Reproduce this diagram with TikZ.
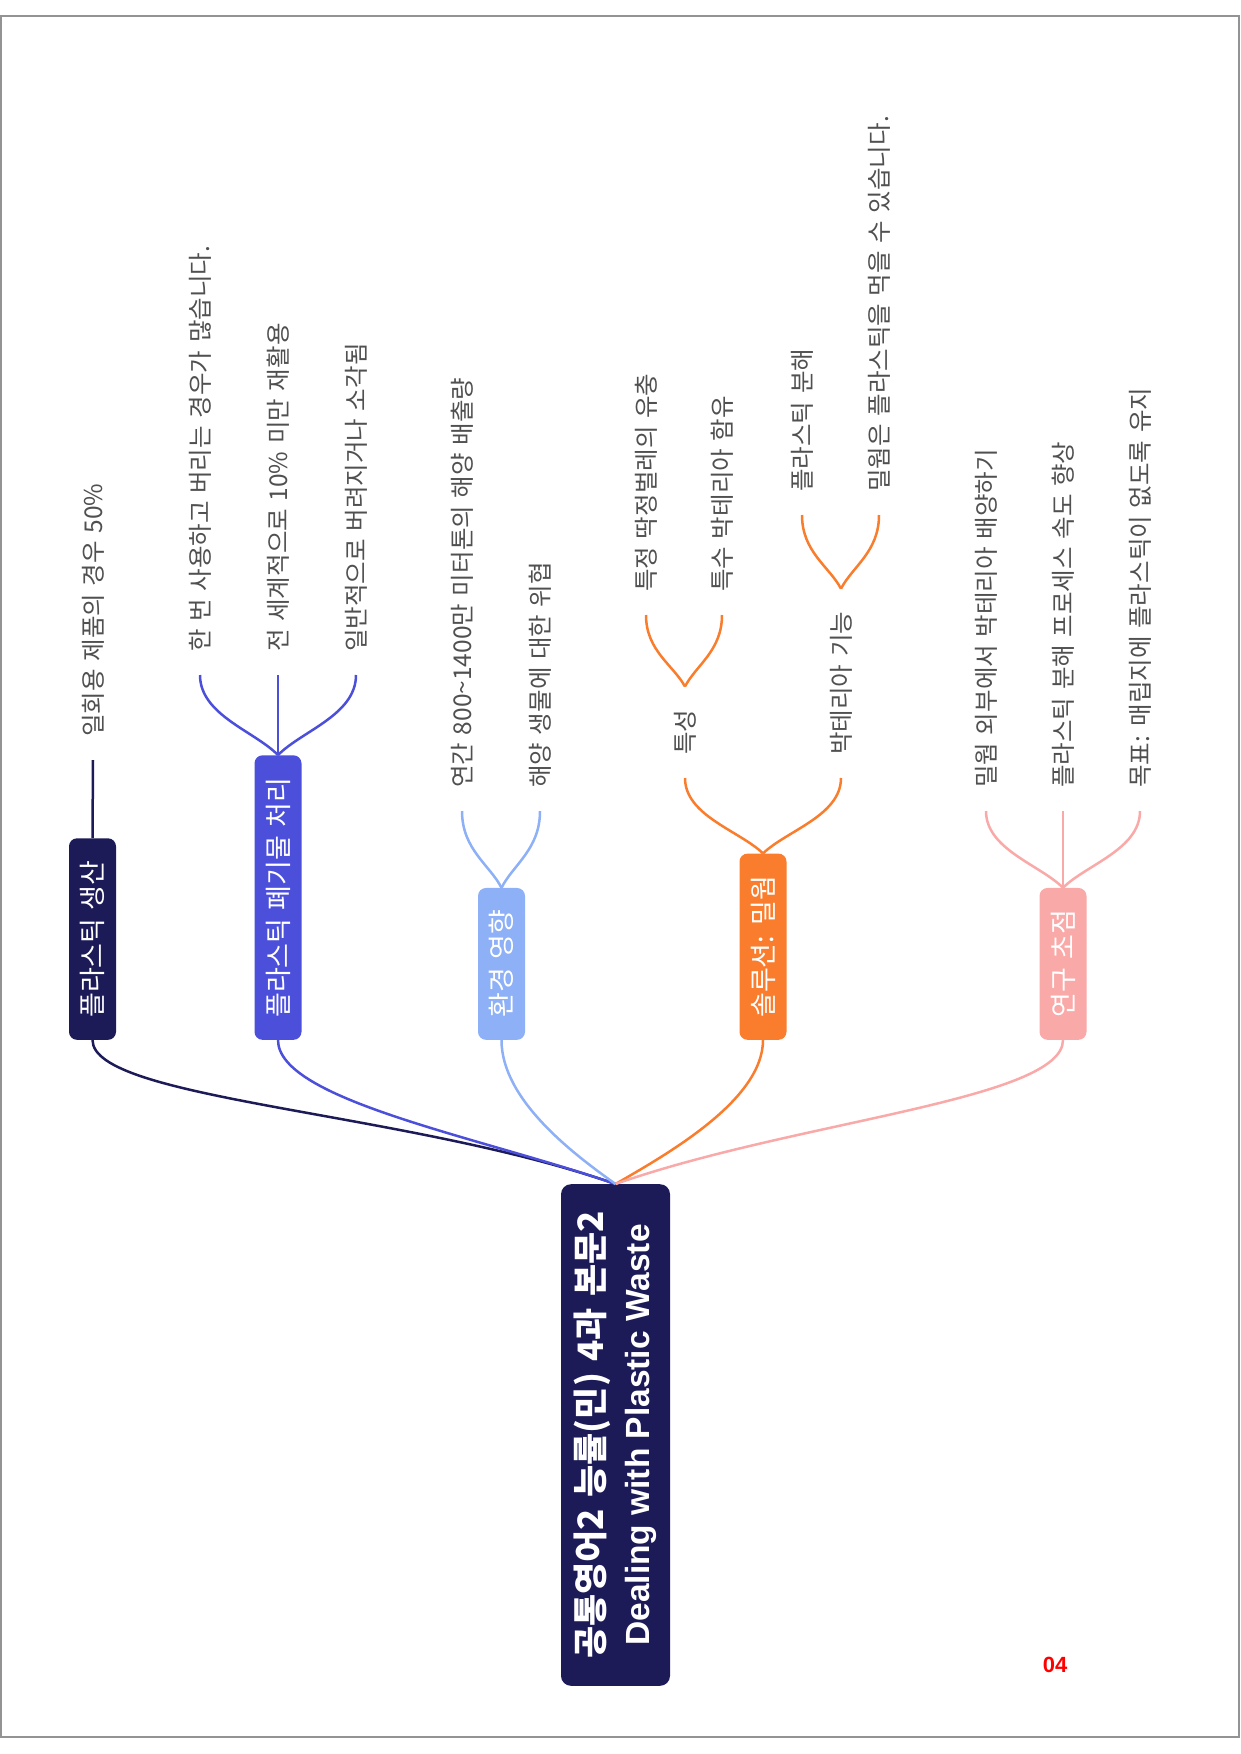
\documentclass[tikz,border=0pt]{standalone}
\usepackage{fontspec}
\setmainfont{Noto Sans CJK KR}[WordSpace=1.4]
\newfontfamily\numfont{Liberation Sans}
\usetikzlibrary{calc}
\definecolor{cnavy}{HTML}{1C1B58}
\definecolor{cblue}{HTML}{4B4FDA}
\definecolor{clight}{HTML}{8DB0F6}
\definecolor{corange}{HTML}{F97D2C}
\definecolor{cpink}{HTML}{F9A9A8}
\definecolor{cleaf}{HTML}{505050}
\begin{document}
\begin{tikzpicture}[x=1pt,y=-1pt,
  rootbox/.style={rotate=90, anchor=west, fill=cnavy, text=white, rounded corners=10pt,
    inner xsep=27pt, inner ysep=0pt, minimum height=109pt, align=center,
    font=\fontsize{33.5}{46}\selectfont\bfseries},
  branchbox/.style={rotate=90, anchor=west, fill=#1, text=white, rounded corners=8pt,
    inner xsep=22pt, inner ysep=0pt, minimum height=47pt, font=\fontsize{27}{30}\selectfont},
  leaf/.style={rotate=90, anchor=west, text=cleaf, inner xsep=23pt, inner ysep=0pt,
    font=\fontsize{24.5}{28}\selectfont},
  link/.style={draw=#1, line width=2.5pt},
  fork/.style={to path={.. controls ($(\tikztostart)!0.3!(\tikztotarget)$) and ($(\tikztotarget)!0.5!(\tikztotarget|-\tikztostart)$) .. (\tikztotarget)}},
]
\useasboundingbox (0,0) rectangle (1240,1754);
\draw[draw=gray!85, line width=1.5pt] (1,16) rectangle (1239,1737);

% root and branches
\node[rootbox] (root) at (615.5,1686) {{\fontsize{35}{46}\selectfont 공통영어2 능률(민) 4과 본문2}\\{\numfont\bfseries Dealing with Plastic Waste}};
\node[branchbox=cnavy] (b1) at (92.5,1040) {플라스틱 생산};
\node[branchbox=cblue] (b2) at (278,1040) {플라스틱 폐기물 처리};
\node[branchbox=clight] (b3) at (501.5,1040) {환경 영향};
\node[branchbox=corange] (b4) at (763,1040) {솔루션: 밀웜};
\node[branchbox=cpink] (b5) at (1063,1040) {연구 초점};

% leaves
\node[leaf] (l11) at (93,760) {일회용 제품의 경우 50\%};
\node[leaf] (l21) at (200,675) {한 번 사용하고 버리는 경우가 많습니다.};
\node[leaf] (l22) at (278,675) {전 세계적으로 10\% 미만 재활용};
\node[leaf] (l23) at (356,675) {일반적으로 버려지거나 소각됨};
\node[leaf] (l31) at (462,811) {연간 800\string~1400만 미터톤의 해양 배출량};
\node[leaf] (l32) at (540,811) {해양 생물에 대한 위협};
\node[leaf] (s41) at (685,778) {특성};
\node[leaf] (s42) at (841,778) {박테리아 기능};
\node[leaf] (l411) at (646,615) {특정 딱정벌레의 유충};
\node[leaf] (l412) at (722,615) {특수 박테리아 함유};
\node[leaf] (l421) at (802,515) {플라스틱 분해};
\node[leaf] (l422) at (879,515) {밀웜은 플라스틱을 먹을 수 있습니다.};
\node[leaf] (l51) at (986,811) {밀웜 외부에서 박테리아 배양하기};
\node[leaf] (l52) at (1063,811) {플라스틱 분해 프로세스 속도 향상};
\node[leaf] (l53) at (1140,811) {목표: 매립지에 플라스틱이 없도록 유지};

% main connectors
\draw[link=cnavy] (b1.west) .. controls +(0,60) and +(-209,-73) .. (root.east);
\draw[link=cblue] (b2.west) .. controls +(0,60) and +(-135,-47) .. (root.east);
\draw[link=clight] (b3.west) .. controls +(0,60) and +(-42,-30) .. (root.east);
\draw[link=corange] (b4.west) .. controls +(0,60) and +(52,-30) .. (root.east);
\draw[link=cpink] (b5.west) .. controls +(0,60) and +(179,-63) .. (root.east);

% forks
\draw[link=cnavy] (b1.east) -- (l11.west);
\draw[link=cblue] (b2.east) to[fork] (l21.west);
\draw[link=cblue] (b2.east) -- (l22.west);
\draw[link=cblue] (b2.east) to[fork] (l23.west);
\draw[link=clight] (b3.east) to[fork] (l31.west);
\draw[link=clight] (b3.east) to[fork] (l32.west);
\draw[link=corange] (b4.east) to[fork] (s41.west);
\draw[link=corange] (b4.east) to[fork] (s42.west);
\draw[link=corange] (s41.east) to[fork] (l411.west);
\draw[link=corange] (s41.east) to[fork] (l412.west);
\draw[link=corange] (s42.east) to[fork] (l421.west);
\draw[link=corange] (s42.east) to[fork] (l422.west);
\draw[link=cpink] (b5.east) to[fork] (l51.west);
\draw[link=cpink] (b5.east) -- (l52.west);
\draw[link=cpink] (b5.east) to[fork] (l53.west);

\node[font=\numfont\bfseries\fontsize{22}{24}\selectfont, text=red] (pg) at (1055,1665) {04};
\end{tikzpicture}
\end{document}
